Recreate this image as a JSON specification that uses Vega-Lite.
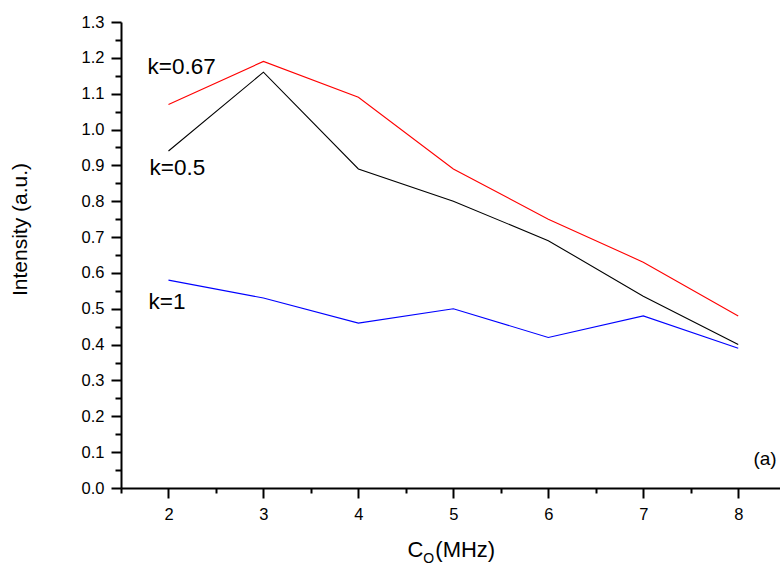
{
  "$schema": "https://vega.github.io/schema/vega-lite/v6.json",
  "autosize": "none",
  "width": 659,
  "height": 466,
  "padding": {"left": 121, "top": 22, "right": 0, "bottom": 76},
  "background": "white",
  "config": {
    "view": {"stroke": null},
    "font": "Liberation Sans",
    "axis": {"grid": false, "domainColor": "black", "tickColor": "black", "labelColor": "black", "titleColor": "black"}
  },
  "datasets": {
    "series": [
      {"f": 2, "intensity": 1.07, "k": "0.67"},
      {"f": 3, "intensity": 1.19, "k": "0.67"},
      {"f": 4, "intensity": 1.09, "k": "0.67"},
      {"f": 5, "intensity": 0.89, "k": "0.67"},
      {"f": 6, "intensity": 0.75, "k": "0.67"},
      {"f": 7, "intensity": 0.63, "k": "0.67"},
      {"f": 8, "intensity": 0.48, "k": "0.67"},
      {"f": 2, "intensity": 0.94, "k": "0.5"},
      {"f": 3, "intensity": 1.16, "k": "0.5"},
      {"f": 4, "intensity": 0.89, "k": "0.5"},
      {"f": 5, "intensity": 0.80, "k": "0.5"},
      {"f": 6, "intensity": 0.69, "k": "0.5"},
      {"f": 7, "intensity": 0.535, "k": "0.5"},
      {"f": 8, "intensity": 0.40, "k": "0.5"},
      {"f": 2, "intensity": 0.58, "k": "1"},
      {"f": 3, "intensity": 0.53, "k": "1"},
      {"f": 4, "intensity": 0.46, "k": "1"},
      {"f": 5, "intensity": 0.50, "k": "1"},
      {"f": 6, "intensity": 0.42, "k": "1"},
      {"f": 7, "intensity": 0.48, "k": "1"},
      {"f": 8, "intensity": 0.39, "k": "1"}
    ],
    "curveLabels": [
      {"f": 1.78, "intensity": 1.174, "label": "k=0.67"},
      {"f": 1.80, "intensity": 0.894, "label": "k=0.5"},
      {"f": 1.79, "intensity": 0.52, "label": "k=1"}
    ],
    "panelTag": [
      {"f": 8.16, "intensity": 0.08, "label": "(a)"}
    ],
    "xTitle": [
      {"f": 4.516, "intensity": -0.172, "label": "C"},
      {"f": 4.81, "intensity": -0.172, "label": "(MHz)"}
    ],
    "xTitleSub": [
      {"f": 4.684, "intensity": -0.197, "label": "O"}
    ]
  },
  "layer": [
    {
      "data": {"name": "series"},
      "mark": {"type": "line", "strokeWidth": 1.1},
      "encoding": {
        "x": {
          "field": "f", "type": "quantitative",
          "scale": {"domain": [1.5, 8.44], "nice": false, "zero": false},
          "axis": {
            "orient": "bottom", "values": [2, 3, 4, 5, 6, 7, 8], "format": "d",
            "title": null, "domainWidth": 2, "tickWidth": 2, "tickSize": 10,
            "labelFontSize": 16.5, "labelPadding": 8
          }
        },
        "y": {
          "field": "intensity", "type": "quantitative",
          "scale": {"domain": [0, 1.3], "nice": false, "zero": true},
          "axis": {
            "orient": "left",
            "values": [0, 0.1, 0.2, 0.3, 0.4, 0.5, 0.6, 0.7, 0.8, 0.9, 1.0, 1.1, 1.2, 1.3],
            "format": ".1f", "domainWidth": 2, "tickWidth": 2, "tickSize": 10,
            "labelFontSize": 16.5, "labelPadding": 7,
            "title": "Intensity (a.u.)", "titleFontSize": 21, "titleFontWeight": "normal",
            "titleX": -101, "titleY": 207, "titleAngle": -90, "titleAlign": "center", "titleBaseline": "middle"
          }
        },
        "color": {
          "field": "k", "type": "nominal",
          "scale": {"domain": ["0.67", "0.5", "1"], "range": ["#ff0000", "#000000", "#0000ff"]},
          "legend": null
        },
        "detail": {"field": "k"}
      }
    },
    {
      "data": {"name": "series"},
      "mark": {"type": "point", "opacity": 0},
      "encoding": {
        "x": {
          "field": "f", "type": "quantitative",
          "axis": {
            "orient": "bottom", "values": [1.5, 2.5, 3.5, 4.5, 5.5, 6.5, 7.5],
            "labels": false, "domain": false, "title": null, "tickWidth": 2, "tickSize": 5
          }
        },
        "y": {
          "field": "intensity", "type": "quantitative",
          "axis": {
            "orient": "left",
            "values": [0.05, 0.15, 0.25, 0.35, 0.45, 0.55, 0.65, 0.75, 0.85, 0.95, 1.05, 1.15, 1.25],
            "labels": false, "domain": false, "title": null, "tickWidth": 2, "tickSize": 6
          }
        }
      }
    },
    {
      "data": {"name": "curveLabels"},
      "mark": {"type": "text", "align": "left", "baseline": "middle", "fontSize": 22.5, "color": "black"},
      "encoding": {
        "x": {"field": "f", "type": "quantitative", "axis": null},
        "y": {"field": "intensity", "type": "quantitative", "axis": null},
        "text": {"field": "label"}
      }
    },
    {
      "data": {"name": "panelTag"},
      "mark": {"type": "text", "align": "left", "baseline": "middle", "fontSize": 19, "color": "black"},
      "encoding": {
        "x": {"field": "f", "type": "quantitative", "axis": null},
        "y": {"field": "intensity", "type": "quantitative", "axis": null},
        "text": {"field": "label"}
      }
    },
    {
      "data": {"name": "xTitle"},
      "mark": {"type": "text", "align": "left", "baseline": "middle", "fontSize": 22, "color": "black"},
      "encoding": {
        "x": {"field": "f", "type": "quantitative", "axis": null},
        "y": {"field": "intensity", "type": "quantitative", "axis": null},
        "text": {"field": "label"}
      }
    },
    {
      "data": {"name": "xTitleSub"},
      "mark": {"type": "text", "align": "left", "baseline": "middle", "fontSize": 14, "color": "black"},
      "encoding": {
        "x": {"field": "f", "type": "quantitative", "axis": null},
        "y": {"field": "intensity", "type": "quantitative", "axis": null},
        "text": {"field": "label"}
      }
    }
  ],
  "resolve": {"axis": {"x": "independent", "y": "independent"}}
}
